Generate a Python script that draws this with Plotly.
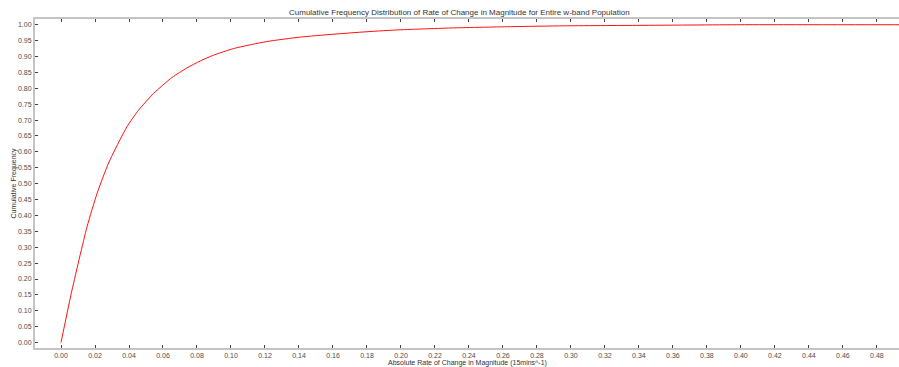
import plotly.graph_objects as go

# Data
rate = [0.0, 0.006, 0.0153, 0.0212, 0.028, 0.0388, 0.0456, 0.0545, 0.0653, 0.0741,
        0.0819, 0.0897, 0.1015, 0.121, 0.1407, 0.160, 0.180, 0.1995, 0.231, 0.266,
        0.2955, 0.3406, 0.40, 0.45, 0.50]
cum_freq = [0.0, 0.154, 0.364, 0.469, 0.565, 0.679, 0.731, 0.784, 0.834, 0.864,
            0.886, 0.904, 0.925, 0.947, 0.961, 0.970, 0.978, 0.984, 0.990, 0.994,
            0.9965, 0.998, 1.0, 1.0, 1.0]

x_ticks = [round(i * 0.02, 2) for i in range(25)]
y_ticks = [round(i * 0.05, 2) for i in range(21)]

title_text = "Cumulative Frequency Distribution of Rate of Change in Magnitude for Entire w-band Population"
x_title = "Absolute Rate of Change in Magnitude (15mins^-1)"
y_title = "Cumulative Frequency"

W, H = 899, 367
ML, MR, MT, MB = 35, 0, 19, 19
PW, PH = W - ML - MR, H - MT - MB

fig = go.Figure()
fig.add_trace(go.Scatter(x=rate, y=cum_freq, mode="lines",
                         line=dict(color="#ff1010", width=1, shape="spline", smoothing=0.6),
                         showlegend=False, hoverinfo="skip"))

axis_common = dict(showgrid=False, zeroline=False, showline=True, linecolor="#c4c4c4",
                   linewidth=2, ticks="inside", ticklen=3, tickwidth=1, tickcolor="#444",
                   automargin=False,
                   tickfont=dict(family="Liberation Sans, Arial", size=7, color="#4d4d4d"))

fig.update_xaxes(range=[-0.0153, 0.493], tickvals=x_ticks,
                 ticktext=[f"{v:.2f}" for v in x_ticks], mirror="ticks", **axis_common)
fig.update_yaxes(range=[-0.017, 1.018], tickvals=y_ticks,
                 ticktext=[f"{v:.2f}" for v in y_ticks], mirror=False, **axis_common)

fig.update_layout(
    width=W, height=H,
    margin=dict(l=ML, r=MR, t=MT, b=MB, pad=0),
    plot_bgcolor="white", paper_bgcolor="white",
    font=dict(family="Liberation Sans, Arial", color="#333"),
    annotations=[
        dict(text=title_text, x=(459 - ML) / PW, y=1 + (MT - 12.5) / PH,
             xref="paper", yref="paper", showarrow=False,
             font=dict(size=8, color="#333"), xanchor="center", yanchor="middle"),
        dict(text=x_title, x=0.5, y=-(363 - (H - MB)) / PH, xref="paper", yref="paper",
             showarrow=False, font=dict(size=7, color="#333"),
             xanchor="center", yanchor="middle"),
        dict(text=y_title, x=(13 - ML) / PW, y=0.5, xref="paper", yref="paper",
             textangle=-90, showarrow=False, font=dict(size=7, color="#333"),
             xanchor="center", yanchor="middle"),
    ],
)

fig.write_html("out.html", config={"displayModeBar": False},
               post_script="document.body.style.margin='0';document.body.style.overflow='hidden';")
